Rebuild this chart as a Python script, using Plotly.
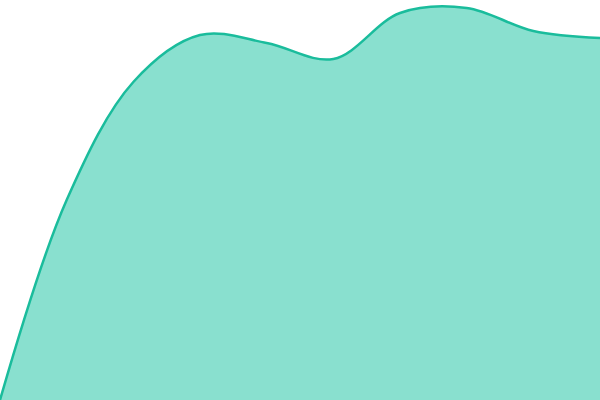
import plotly.graph_objects as go

x_vals = [0, 1, 2, 3, 4, 5, 6, 7, 8, 9]
y_vals = [0, 200, 318, 365, 357, 341, 387, 392, 369, 362]

fig = go.Figure(go.Scatter(
    x=x_vals, y=y_vals, mode="lines",
    line=dict(shape="spline", smoothing=1.0, color="#1abc9c", width=2.5),
    fill="tozeroy", fillcolor="#89e0cf",
    hoverinfo="skip",
))
fig.update_layout(
    width=600, height=400,
    margin=dict(l=0, r=0, t=0, b=0),
    paper_bgcolor="white", plot_bgcolor="white",
    showlegend=False,
    xaxis=dict(visible=False, range=[0, 9]),
    yaxis=dict(visible=False, range=[0, 400]),
)
fig.write_html("out.html", config={"displayModeBar": False},
               post_script="document.body.style.margin='0';document.body.style.overflow='hidden';")
